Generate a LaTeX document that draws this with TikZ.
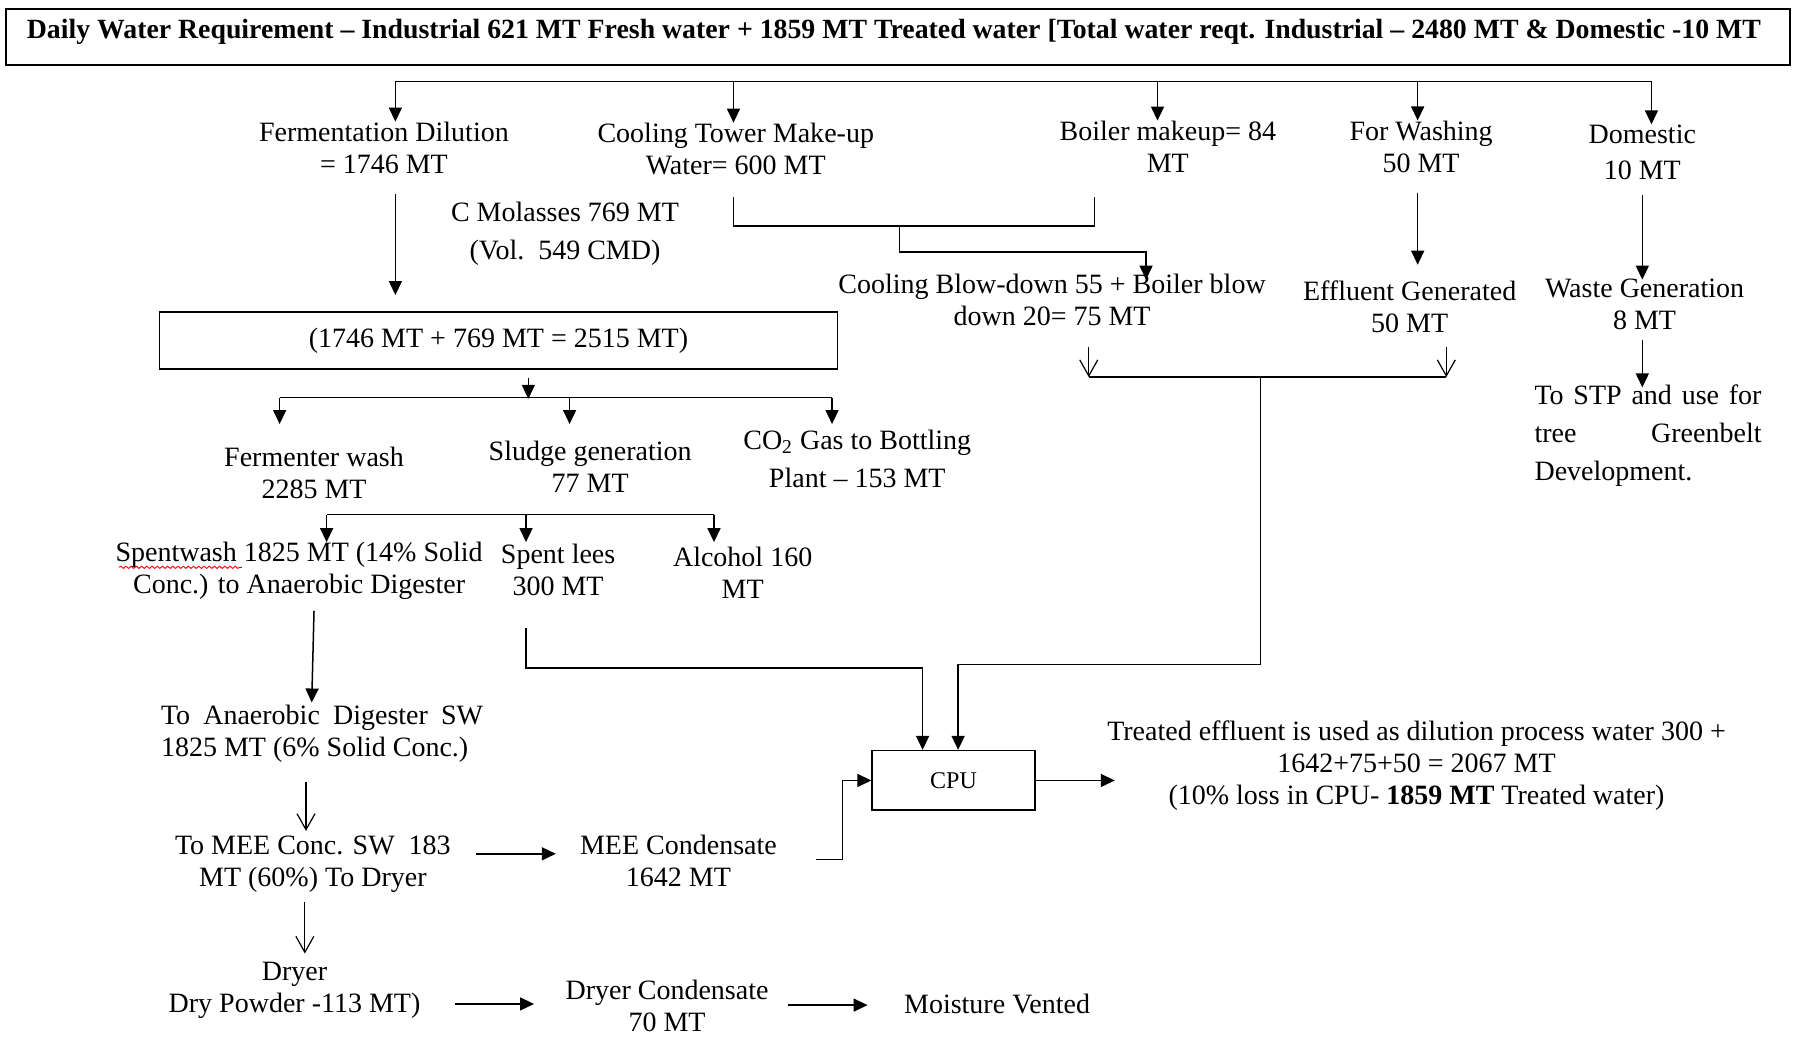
\documentclass[tikz,border=0pt]{standalone}
\usepackage{fontspec}
\setmainfont{Liberation Serif}
\usetikzlibrary{arrows.meta,decorations.pathmorphing,calc}
\begin{document}
\begin{tikzpicture}[x=0.573pt,y=-0.573pt,
  txt/.style={align=center,inner sep=0pt,font=\fontsize{14}{16}\selectfont},
  box/.style={draw,line width=0.8pt,inner sep=0pt},
  wire/.style={line width=0.75pt},
  arr/.style={wire,-{Triangle[length=7pt,width=6.5pt]}},
  varr/.style={line width=0.6pt,-{Straight Barb[length=8pt,width=9pt,line width=0.6pt]}},
]
\useasboundingbox (0,0) rectangle (1568,905);

% heading
\node[box,minimum width=892pt,minimum height=28pt] (head) at (783.5,32.5) {};
\node[txt,font=\bfseries\fontsize{13.9}{16}\selectfont] (title) at (780,28)
  {Daily Water Requirement – Industrial 621 MT Fresh water + 1859 MT Treated water [Total water reqt. Industrial – 2480 MT \& Domestic -10 MT};

% water demands
\node[txt] (ferm) at (335,129) {Fermentation Dilution\\= 1746 MT};
\node[txt] (ctm) at (642,130) {Cooling Tower Make-up\\Water= 600 MT};
\node[txt] (boil) at (1019,128) {Boiler makeup= 84\\MT};
\node[txt] (wash) at (1240,128) {For Washing\\50 MT};
\node[txt] (dom) at (1433,133) {Domestic\\[2.3pt]10 MT};

% distribution bus
\coordinate (bFerm) at (345,71);
\coordinate (bCtm) at (640,71);
\coordinate (bBoil) at (1010,71);
\coordinate (bWash) at (1237,71);
\coordinate (bDom) at (1441,71);
\draw[wire] (bFerm) -- (bDom);
\foreach \c/\n in {bFerm/ferm,bCtm/ctm,bBoil/boil,bWash/wash,bDom/dom}
  \draw[arr] (\c) -- (\c |- \n.north);

% fermentation section
\node[txt] (mol) at (493,204) {C Molasses 769 MT\\[3pt](Vol.\ \ 549 CMD)};
\node[box,txt,draw,minimum width=339pt,minimum height=28.5pt] (mix) at (435,297) {(1746 MT + 769 MT = 2515 MT)};
\draw[arr] ($(mix.north)+(-90,-102)$) -- ($(mix.north)+(-90,-14)$);

\node[txt] (fwash) at (274,413) {Fermenter wash\\2285 MT};
\node[txt] (sludge) at (515,407) {Sludge generation\\77 MT};
\node[txt] (co2) at (748,400) {CO\textsubscript{2} Gas to Bottling\\[3pt]Plant – 153 MT};
\coordinate (mixOut) at (461,348);
\draw[arr] ($(mix.south)+(26,7)$) -- (mixOut);
\draw[wire] (244,347) -- (726,347);
\foreach \x in {244,497,726} \draw[arr] (\x,347) -- (\x,370);

\node[txt] (spent) at (261,498) {Spentwash 1825 MT (14\% Solid\\Conc.) to Anaerobic Digester};
\node[txt] (lees) at (487,497) {Spent lees\\300 MT};
\node[txt] (alc) at (648,500) {Alcohol 160\\MT};
\draw[wire] (285,449) -- (623,449);
\foreach \x in {285,459,623} \draw[arr] (\x,449) -- (\x,473);
\draw[red,line width=0.45pt,decorate,decoration={snake,amplitude=0.55pt,segment length=2.6pt}] (104,495) -- (211,495);

% spentwash treatment chain
\node[txt,align=justify,text width=161pt] (anae) at (281,640) {To Anaerobic Digester SW\linebreak 1825 MT (6\% Solid Conc.)};
\node[txt] (mee) at (273,754) {To MEE Conc. SW\ \ 183\\MT (60\%) To Dryer};
\node[txt] (meec) at (592,751) {MEE Condensate\\1642 MT};
\node[txt] (dryer) at (257,864) {Dryer\\Dry Powder -113 MT)};
\node[txt] (dryc) at (582,878) {Dryer Condensate\\70 MT};
\node[txt] (moist) at (870,876) {Moisture Vented};
\draw[arr] (274,533) -- (272,613);
\draw[varr] (267,682) -- (267,725);
\draw[arr] (415,745) -- (485,745);
\draw[varr] (266,787) -- (266,832);
\draw[arr] (397,876) -- (466,876);
\draw[arr] (688,877) -- (757,877);

% blow-down, effluent and domestic branches
\draw[wire] (640,172) -- (640,197) -- (955,197) -- (955,172);
\node[txt] (blow) at (918,262) {Cooling Blow-down 55 + Boiler blow\\down 20= 75 MT};
\node[txt] (eff) at (1230,268) {Effluent Generated\\50 MT};
\node[txt] (waste) at (1435,266) {Waste Generation\\8 MT};
\node[txt,align=justify,text width=113.5pt,font=\fontsize{14}{19}\selectfont] (stp) at (1438,380) {To STP and use for\linebreak tree Greenbelt\linebreak Development.};
\draw[arr] (785,197) -- (785,220) -- (1000,220) -- (1000,244);
\draw[arr] (1237,168) -- (1237,231);
\draw[arr] (1433,170) -- (1433,244);
\draw[arr] (1433,297) -- (1433,338);
\draw[varr] (950,303) -- (950,329);
\draw[varr] (1262,303) -- (1262,329);
\draw[wire] (950,329) -- (1262,329);

% condensate polishing unit
\node[box,minimum width=81.4pt,minimum height=29.8pt,font=\fontsize{12}{14}\selectfont] (cpu) at (832,681) {CPU};
\node[txt] (treat) at (1236,668) {Treated effluent is used as dilution process water 300 +\\1642+75+50 = 2067 MT\\(10\% loss in CPU- \textbf{1859 MT} Treated water)};
\draw[arr] (1100,329) -- (1100,580) -- (836,580) -- ($(cpu.north)+(4,0)$);
\draw[arr] (459,548) -- (459,583) -- (805,583) -- ($(cpu.north)+(-27,0)$);
\draw[arr] (712,750) -- (735,750) -- (735,681) -- (cpu.west);
\draw[arr] (cpu.east) -- ($(cpu.east)+(69,0)$);
\end{tikzpicture}
\end{document}
